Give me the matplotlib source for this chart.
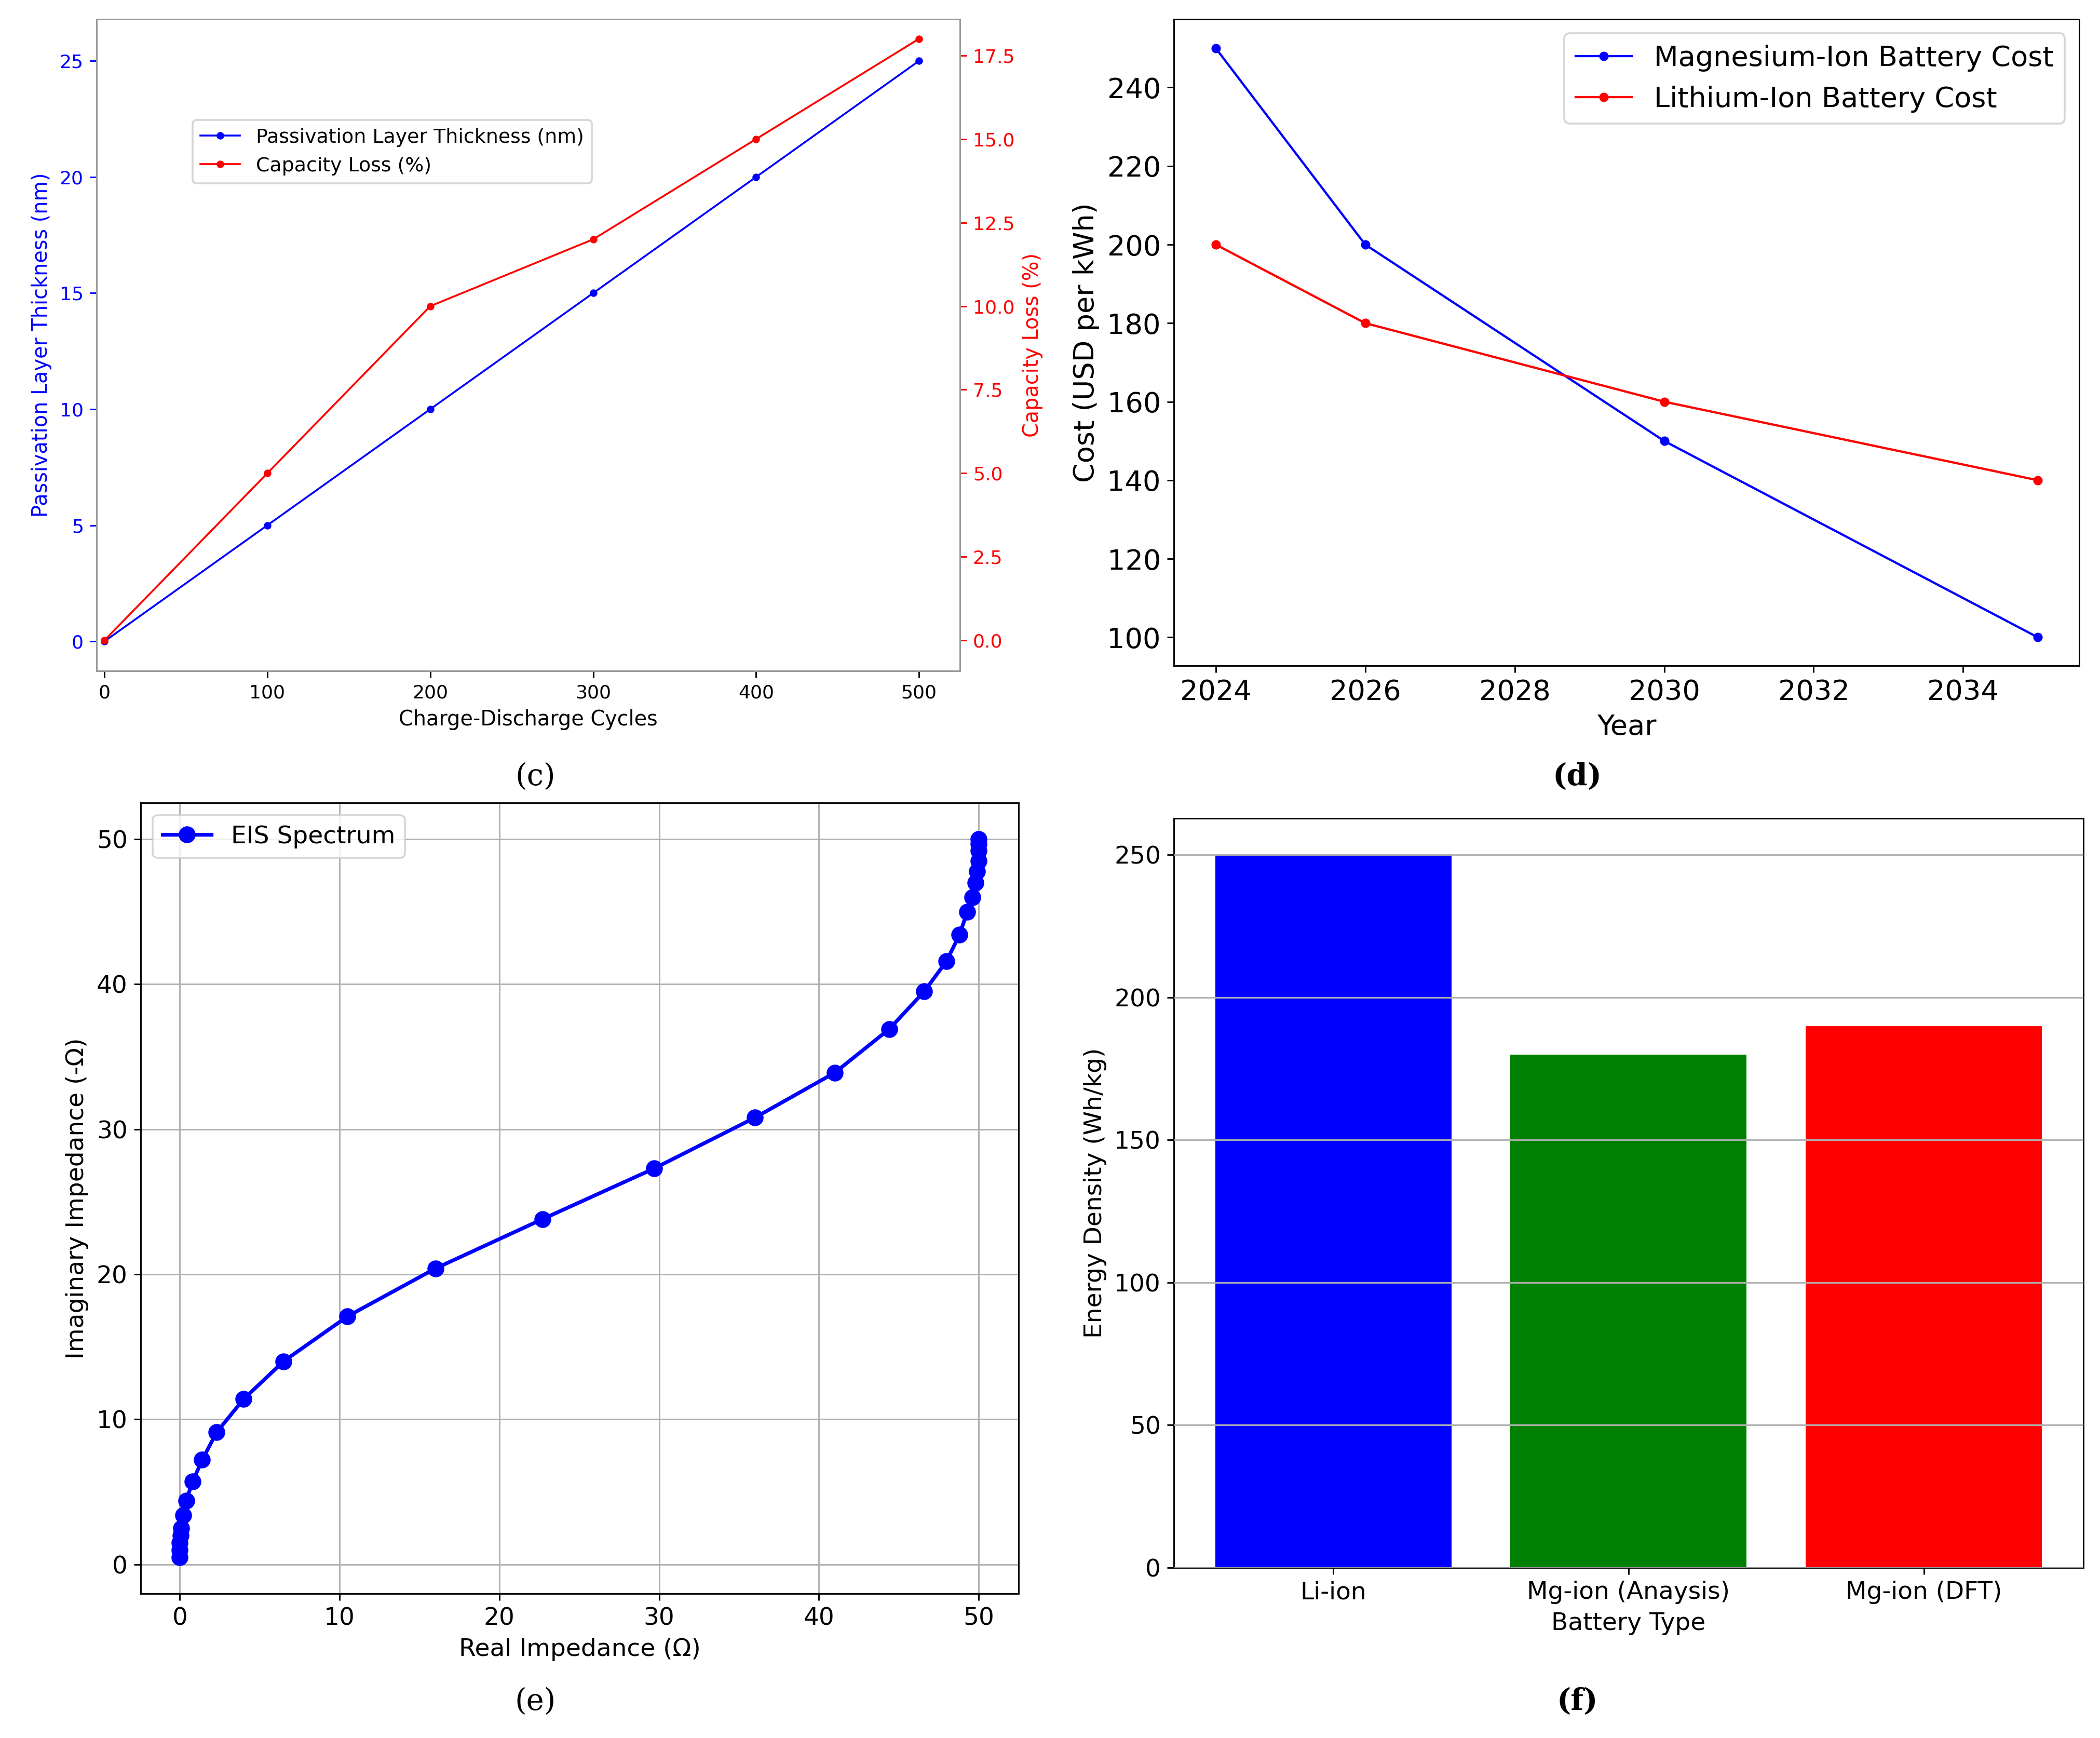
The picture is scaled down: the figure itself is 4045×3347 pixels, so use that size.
import matplotlib
matplotlib.use("Agg")
import matplotlib.pyplot as plt

# (c) passivation layer vs cycles
cycles = [0, 100, 200, 300, 400, 500]
thickness = [0, 5, 10, 15, 20, 25]
cap_loss = [0, 5, 10, 12, 15, 18]

# (d) cost projection
years = [2024, 2026, 2030, 2035]
mg_cost = [250, 200, 150, 100]
li_cost = [200, 180, 160, 140]

# (e) EIS spectrum
z_real = [0, 0, 0, 0.05, 0.1, 0.2, 0.4, 0.8, 1.4, 2.3, 4.0, 6.5, 10.5, 16.0, 22.7,
          29.7, 36.0, 41.0, 44.4, 46.6, 48.0, 48.8, 49.3, 49.6, 49.8, 49.9, 50.0, 50.0, 50.0, 50.0]
z_imag = [0.5, 1.0, 1.5, 2.0, 2.5, 3.4, 4.4, 5.7, 7.2, 9.1, 11.4, 14.0, 17.1, 20.4, 23.8,
          27.3, 30.8, 33.9, 36.9, 39.5, 41.6, 43.4, 45.0, 46.0, 47.0, 47.8, 48.5, 49.2, 49.7, 50.0]

# (f) energy density
battery_types = ["Li-ion", "Mg-ion (Anaysis)", "Mg-ion (DFT)"]
energy_density = [250, 180, 190]
bar_colors = ["blue", "green", "red"]

fig = plt.figure(figsize=(4045 / 260, 3347 / 260), dpi=260)

# panel c
ax_c = fig.add_axes([0.046, 0.614, 0.411, 0.375])
ax_c.plot(cycles, thickness, color="blue", marker="o", markersize=3, lw=1, label="Passivation Layer Thickness (nm)")
ax_c.set_xlim(-4.8, 525)
ax_c.set_ylim(-1.27, 26.8)
ax_c.set_xticks(cycles)
ax_c.set_yticks([0, 5, 10, 15, 20, 25])
ax_c.set_xlabel("Charge-Discharge Cycles", fontsize=11)
ax_c.set_ylabel("Passivation Layer Thickness (nm)", color="blue", fontsize=11)
ax_c.tick_params(axis="y", colors="blue", labelsize=10)
ax_c.tick_params(axis="x", labelsize=10)
ax_c2 = ax_c.twinx()
ax_c2.plot(cycles, cap_loss, color="red", marker="o", markersize=3, lw=1, label="Capacity Loss (%)")
ax_c2.set_ylim(-0.914, 18.59)
ax_c2.set_yticks([0, 2.5, 5, 7.5, 10, 12.5, 15, 17.5])
ax_c2.set_ylabel("Capacity Loss (%)", color="red", fontsize=11)
ax_c2.tick_params(axis="y", colors="red", labelsize=10)
for a in (ax_c, ax_c2):
    for s in a.spines.values():
        s.set_color("#999999")
h1, l1 = ax_c.get_legend_handles_labels()
h2, l2 = ax_c2.get_legend_handles_labels()
ax_c.legend(h1 + h2, l1 + l2, loc="upper left", bbox_to_anchor=(0.1, 0.86), fontsize=10.5)

# panel d
ax_d = fig.add_axes([0.559, 0.617, 0.431, 0.372])
ax_d.plot(years, mg_cost, color="blue", marker="o", markersize=4, lw=1.2, label="Magnesium-Ion Battery Cost")
ax_d.plot(years, li_cost, color="red", marker="o", markersize=4, lw=1.2, label="Lithium-Ion Battery Cost")
ax_d.set_xlim(2023.44, 2035.55)
ax_d.set_ylim(92.8, 257.4)
ax_d.set_xticks([2024, 2026, 2028, 2030, 2032, 2034])
ax_d.set_xlabel("Year", fontsize=15)
ax_d.set_ylabel("Cost (USD per kWh)", fontsize=15)
ax_d.tick_params(labelsize=15)
ax_d.legend(loc="upper right", fontsize=15)

# panel e
ax_e = fig.add_axes([0.067, 0.083, 0.418, 0.455])
ax_e.plot(z_real, z_imag, color="blue", marker="o", markersize=8, lw=2, label="EIS Spectrum")
ax_e.set_xlim(-2.45, 52.5)
ax_e.set_ylim(-2.03, 52.5)
ax_e.set_xlabel("Real Impedance (Ω)", fontsize=13)
ax_e.set_ylabel("Imaginary Impedance (-Ω)", fontsize=13)
ax_e.tick_params(labelsize=13)
ax_e.grid(True)
ax_e.legend(loc="upper left", fontsize=13)

# panel f
ax_f = fig.add_axes([0.559, 0.098, 0.433, 0.431])
ax_f.bar(battery_types, energy_density, color=bar_colors)
ax_f.set_ylim(0, 262.7)
ax_f.set_xlabel("Battery Type", fontsize=13)
ax_f.set_ylabel("Energy Density (Wh/kg)", fontsize=13)
ax_f.tick_params(labelsize=13)
ax_f.yaxis.grid(True)
ax_f.set_axisbelow(False)

for x, y, t in [(0.255, 0.553, "(c)"), (0.751, 0.553, "(d)"), (0.255, 0.021, "(e)"), (0.751, 0.021, "(f)")]:
    fig.text(x, y, t, ha="center", va="center", fontsize=16, family="DejaVu Serif",
             fontweight="bold" if t in ("(d)", "(f)") else "normal")

fig.savefig("out.png", dpi=260)
